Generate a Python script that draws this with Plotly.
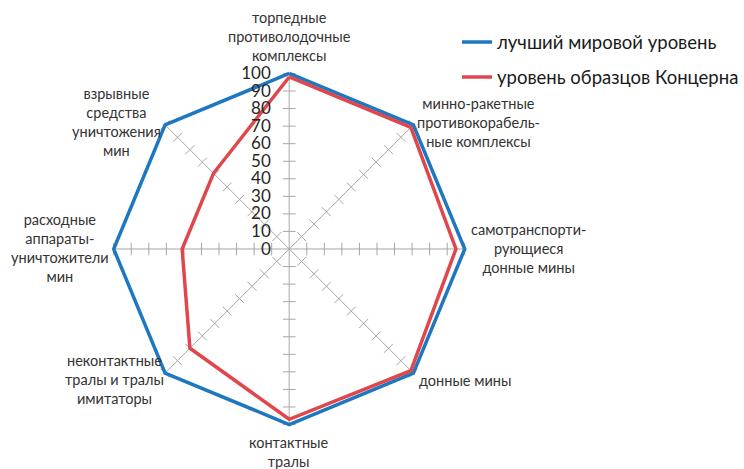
import numpy as np
import plotly.graph_objects as go

# Axis categories, clockwise from the top
categories = [
    "торпедные противолодочные комплексы",
    "минно-ракетные противокорабельные комплексы",
    "самотранспортирующиеся донные мины",
    "донные мины",
    "контактные тралы",
    "неконтактные тралы и тралы имитаторы",
    "расходные аппараты-уничтожители мин",
    "взрывные средства уничтожения мин",
]
# How each category name is broken into lines next to its spoke
category_labels = [
    "торпедные<br>противолодочные<br>комплексы",
    "минно-ракетные<br>противокорабель-<br>ные комплексы",
    "самотранспорти-<br>рующиеся<br>донные мины",
    "донные мины",
    "контактные<br>тралы",
    "неконтактные<br>тралы и тралы<br>имитаторы",
    "расходные<br>аппараты-<br>уничтожители<br>мин",
    "взрывные<br>средства<br>уничтожения<br>мин",
]
world_best = [100, 100, 100, 100, 100, 100, 100, 100]
concern = [98, 98, 95, 98, 97, 80, 61, 61]
radial_ticks = [0, 10, 20, 30, 40, 50, 60, 70, 80, 90, 100]

BLUE = "#1f77c0"
RED = "#e0474c"
GRID = "#a6a6a6"
FONT = "Lato, Open Sans, sans-serif"

W, H = 744, 469
cx, cy, r100 = 290, 249, 176         # centre and radius of the 100 level, px
R_MAX = 103                          # headroom so the outer polygon is not clipped
rad = r100 * R_MAX / 100

# Centre of each category label block, px from the top-left corner
label_centres = [
    (290, 37), (480, 122), (530, 249), (466, 380),
    (290, 452), (115, 379), (60, 248), (117, 122),
]


def closed(seq):
    return list(seq) + [seq[0]]


fig = go.Figure()

# Spokes from the centre to the top of the scale
top = radial_ticks[-1]
for cat in categories:
    fig.add_trace(go.Scatterpolar(
        r=[0, top], theta=[cat, cat], mode="lines",
        line=dict(color=GRID, width=1),
        showlegend=False, hoverinfo="skip",
    ))

# Cross ticks on every spoke, one per radial tick value
n = len(categories)
tick_r, tick_theta, tick_angle = [], [], []
for k, cat in enumerate(categories):
    for v in radial_ticks[1:]:
        tick_r.append(v)
        tick_theta.append(cat)
        tick_angle.append(360.0 * k / n)
fig.add_trace(go.Scatterpolar(
    r=tick_r, theta=tick_theta, mode="markers",
    marker=dict(symbol="line-ew", size=9, angle=tick_angle,
                line=dict(color=GRID, width=1)),
    showlegend=False, hoverinfo="skip",
))

fig.add_trace(go.Scatterpolar(
    r=closed(world_best), theta=closed(categories), mode="lines",
    name="лучший мировой уровень",
    line=dict(color=BLUE, width=3.5), legendgroup="a",
))
fig.add_trace(go.Scatterpolar(
    r=closed(concern), theta=closed(categories), mode="lines",
    name="уровень образцов Концерна",
    line=dict(color=RED, width=3.5), legendgroup="b",
))

annotations = [
    dict(text=lbl, x=px / W, y=1 - py / H, xref="paper", yref="paper",
         xanchor="center", yanchor="middle", align="center",
         showarrow=False, font=dict(size=14.5, color="#333333", family=FONT))
    for lbl, (px, py) in zip(category_labels, label_centres)
]

fig.update_layout(
    width=W, height=H,
    margin=dict(l=0, r=0, t=0, b=0),
    paper_bgcolor="white",
    font=dict(family=FONT, color="#333333"),
    annotations=annotations,
    polar=dict(
        domain=dict(x=[(cx - rad) / W, (cx + rad) / W],
                    y=[(H - cy - rad) / H, (H - cy + rad) / H]),
        bgcolor="white",
        gridshape="linear",
        radialaxis=dict(
            range=[0, R_MAX], tickvals=radial_ticks, showgrid=False,
            showline=False, angle=90,
            tickangle=90, ticks="outside", ticklen=12,
            tickcolor="rgba(0,0,0,0)", side="counterclockwise",
            tickfont=dict(size=17, color="#262626", family=FONT),
        ),
        angularaxis=dict(
            rotation=90, direction="clockwise", showline=False,
            showgrid=False, ticks="", showticklabels=False,
        ),
    ),
    legend=dict(
        x=0.616, y=0.95, xanchor="left", yanchor="top",
        font=dict(size=18.5, color="#1a1a1a", family=FONT),
        tracegroupgap=8, traceorder="grouped",
        bgcolor="rgba(0,0,0,0)",
    ),
)

fig.write_html("out.html")
